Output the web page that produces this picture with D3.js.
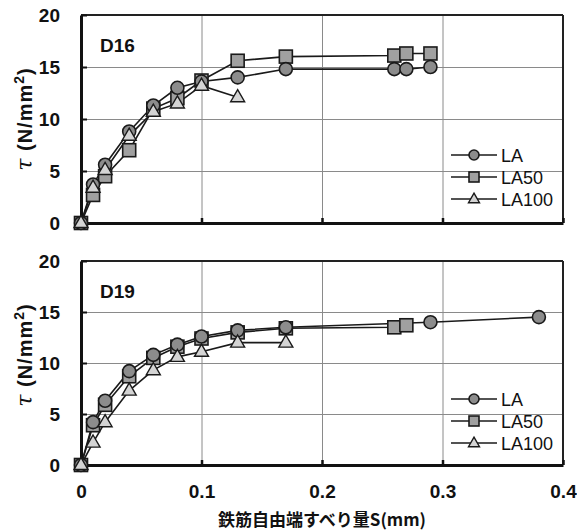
<!DOCTYPE html>
<html><head><meta charset="utf-8">
<script src="https://cdn.jsdelivr.net/npm/d3@7"></script>
<style>
body{margin:0;background:#fff;}
svg{display:block;}
</style></head>
<body>
<svg id="chart" width="577" height="530"></svg>
<script>
// ---- data ----
const seriesNames = ["LA", "LA50", "LA100"];
const xTicks = [0, 0.1, 0.2, 0.3, 0.4];
const xTickLabels = ["0", "0.1", "0.2", "0.3", "0.4"];
const yTicks = [0, 5, 10, 15, 20];
const panelTitles = ["D16", "D19"];

// D16
const d16_LA_s   = [0, 0.01, 0.02, 0.04, 0.06, 0.08, 0.10, 0.13, 0.17, 0.26, 0.27, 0.29];
const d16_LA_t   = [0, 3.7, 5.6, 8.8, 11.3, 13.0, 13.6, 14.0, 14.8, 14.8, 14.8, 15.0];
const d16_LA50_s = [0, 0.01, 0.02, 0.04, 0.06, 0.08, 0.10, 0.13, 0.17, 0.26, 0.27, 0.29];
const d16_LA50_t = [0, 2.7, 4.5, 7.0, 11.0, 12.0, 13.7, 15.6, 16.0, 16.1, 16.3, 16.3];
const d16_LA100_s = [0, 0.01, 0.02, 0.04, 0.06, 0.08, 0.10, 0.13];
const d16_LA100_t = [0, 3.4, 5.1, 8.4, 10.7, 11.5, 13.2, 12.1];

// D19
const d19_LA_s   = [0, 0.01, 0.02, 0.04, 0.06, 0.08, 0.10, 0.13, 0.17, 0.29, 0.38];
const d19_LA_t   = [0, 4.2, 6.3, 9.2, 10.8, 11.8, 12.6, 13.2, 13.5, 14.0, 14.5];
const d19_LA50_s = [0, 0.01, 0.02, 0.04, 0.06, 0.08, 0.10, 0.13, 0.17, 0.26, 0.27];
const d19_LA50_t = [0, 3.9, 5.9, 8.7, 10.5, 11.6, 12.4, 13.0, 13.4, 13.5, 13.7];
const d19_LA100_s = [0, 0.01, 0.02, 0.04, 0.06, 0.08, 0.10, 0.13, 0.17];
const d19_LA100_t = [0, 2.2, 4.2, 7.3, 9.3, 10.6, 11.1, 12.0, 12.0];

const zip = (s, t) => s.map((v, i) => ({s: v, t: t[i]}));
const panels = [
  {title: panelTitles[0], top: 15, height: 208, legendY: 155, titleY: 119,
   series: [zip(d16_LA_s, d16_LA_t), zip(d16_LA50_s, d16_LA50_t), zip(d16_LA100_s, d16_LA100_t)]},
  {title: panelTitles[1], top: 261, height: 204, legendY: 399, titleY: 355,
   series: [zip(d19_LA_s, d19_LA_t), zip(d19_LA50_s, d19_LA50_t), zip(d19_LA100_s, d19_LA100_t)]}
];

const left = 81, width = 482;
const svg = d3.select("#chart");
const x = d3.scaleLinear().domain([0, 0.4]).range([0, width]);

const numFont = "'Liberation Sans', Arial, sans-serif";
const lineColor = "#1a1a1a";
const fills = ["#8c8c8c", "#a0a0a0", "#d4d4d4"];

function marker(g, type, size) {
  if (type === 0) {
    g.append("circle").attr("r", size/2).attr("fill", fills[0]).attr("stroke", lineColor).attr("stroke-width", 1.6);
  } else if (type === 1) {
    g.append("rect").attr("x", -size/2).attr("y", -size/2).attr("width", size).attr("height", size)
      .attr("fill", fills[1]).attr("stroke", lineColor).attr("stroke-width", 1.6);
  } else {
    const sym = d3.symbol().type(d3.symbolTriangle).size(size * size * Math.sqrt(3) / 4);
    g.append("path").attr("d", sym()).attr("transform", "translate(0,0.5)")
      .attr("fill", fills[2]).attr("stroke", lineColor).attr("stroke-width", 1.4);
  }
}

panels.forEach((p, pi) => {
  const y = d3.scaleLinear().domain([0, 20]).range([p.height, 0]);
  const g = svg.append("g").attr("transform", `translate(${left},${p.top})`);

  // gridlines
  g.append("g").attr("class", "grid")
    .call(d3.axisLeft(y).tickValues(yTicks.slice(1, 4)).tickSize(-width).tickFormat(""))
    .call(a => a.select(".domain").remove())
    .call(a => a.selectAll("line").attr("stroke", "#8a8a8a").attr("stroke-width", 1));
  g.append("g").attr("class", "grid")
    .attr("transform", `translate(0,${p.height})`)
    .call(d3.axisBottom(x).tickValues(xTicks.slice(1, 4)).tickSize(-p.height).tickFormat(""))
    .call(a => a.select(".domain").remove())
    .call(a => a.selectAll("line").attr("stroke", "#8a8a8a").attr("stroke-width", 1));

  // frame: top/right thinner
  g.append("line").attr("x1", 0).attr("x2", width).attr("y1", 0).attr("y2", 0)
    .attr("stroke", "#222").attr("stroke-width", 2);
  g.append("line").attr("x1", width).attr("x2", width).attr("y1", 0).attr("y2", p.height)
    .attr("stroke", "#222").attr("stroke-width", 2);

  // inward ticks
  g.append("g").call(d3.axisRight(y).tickValues(yTicks).tickSize(6).tickFormat(""))
    .call(a => a.select(".domain").remove())
    .call(a => a.selectAll("line").attr("stroke", "#111").attr("stroke-width", 2));
  g.append("g").attr("transform", `translate(0,${p.height})`)
    .call(d3.axisTop(x).tickValues(xTicks).tickSize(5).tickFormat(""))
    .call(a => a.select(".domain").remove())
    .call(a => a.selectAll("line").attr("stroke", "#111").attr("stroke-width", 2.5));

  // left / bottom axes (thick)
  g.append("g").call(d3.axisLeft(y).tickValues(yTicks).tickSize(0).tickPadding(21).tickFormat(d3.format("d")))
    .call(a => a.select(".domain").attr("stroke", "#111").attr("stroke-width", 3))
    .call(a => a.selectAll("text").attr("font-family", numFont).attr("font-weight", "bold")
      .attr("font-size", 19).attr("fill", "#111"));
  const xa = g.append("g").attr("transform", `translate(0,${p.height})`)
    .call(d3.axisBottom(x).tickValues(xTicks).tickSize(0).tickPadding(20)
      .tickFormat((d, i) => xTickLabels[i]))
    .call(a => a.select(".domain").attr("stroke", "#111").attr("stroke-width", 3))
    .call(a => a.selectAll("text").attr("font-family", numFont).attr("font-weight", "bold")
      .attr("font-size", 19).attr("fill", "#111"));
  if (pi === 0) xa.selectAll("text").remove();

  // y title
  const yt = svg.append("text")
    .attr("transform", `translate(32,${p.titleY}) rotate(-90)`)
    .attr("text-anchor", "middle").attr("font-family", numFont).attr("font-size", 20)
    .attr("letter-spacing", 1)
    .attr("font-weight", "bold").attr("fill", "#111");
  yt.append("tspan").attr("font-style", "italic").attr("font-family", "'DejaVu Serif', serif").attr("font-weight", "normal").attr("font-size", 22).text("τ");
  yt.append("tspan").text(" (N/mm");
  yt.append("tspan").attr("dy", -8).attr("font-size", 14).text("2");
  yt.append("tspan").attr("dy", 8).text(")");

  // panel title
  g.append("text").attr("x", 19).attr("y", 37).attr("font-family", numFont)
    .attr("font-size", 19).attr("font-weight", "bold").attr("fill", "#111").text(p.title);

  // series lines + markers
  const line = d3.line().x(d => x(d.s)).y(d => y(d.t));
  p.series.forEach((data) => {
    g.append("path").datum(data).attr("d", line).attr("fill", "none")
      .attr("stroke", lineColor).attr("stroke-width", 1.6);
  });
  [1, 0, 2].forEach(si => {
    const data = p.series[si];
    g.append("g").selectAll("g").data(data).join("g")
      .attr("transform", d => `translate(${x(d.s)},${y(d.t)})`)
      .each(function() { marker(d3.select(this), si, si === 2 ? 14 : 13); });
  });

  // legend
  const lg = svg.append("g").attr("transform", `translate(451,${p.legendY})`);
  seriesNames.forEach((name, si) => {
    const row = lg.append("g").attr("transform", `translate(0,${si * 22})`);
    row.append("line").attr("x1", 0).attr("x2", 46).attr("stroke", lineColor).attr("stroke-width", 1.4);
    const m = row.append("g").attr("transform", "translate(23,0)");
    marker(m, si, si === 2 ? 11 : 10);
    row.append("text").attr("x", 50).attr("y", 6.5).attr("font-family", numFont)
      .attr("font-size", 18).attr("fill", "#111").text(name);
  });
});

// x axis title
svg.append("text").attr("x", 322).attr("y", 526).attr("text-anchor", "middle")
  .attr("font-family", "'Noto Sans CJK JP', sans-serif").attr("font-size", 17).attr("font-weight", "bold")
  .attr("fill", "#111").text("鉄筋自由端すべり量S(mm)");
</script>
</body></html>
